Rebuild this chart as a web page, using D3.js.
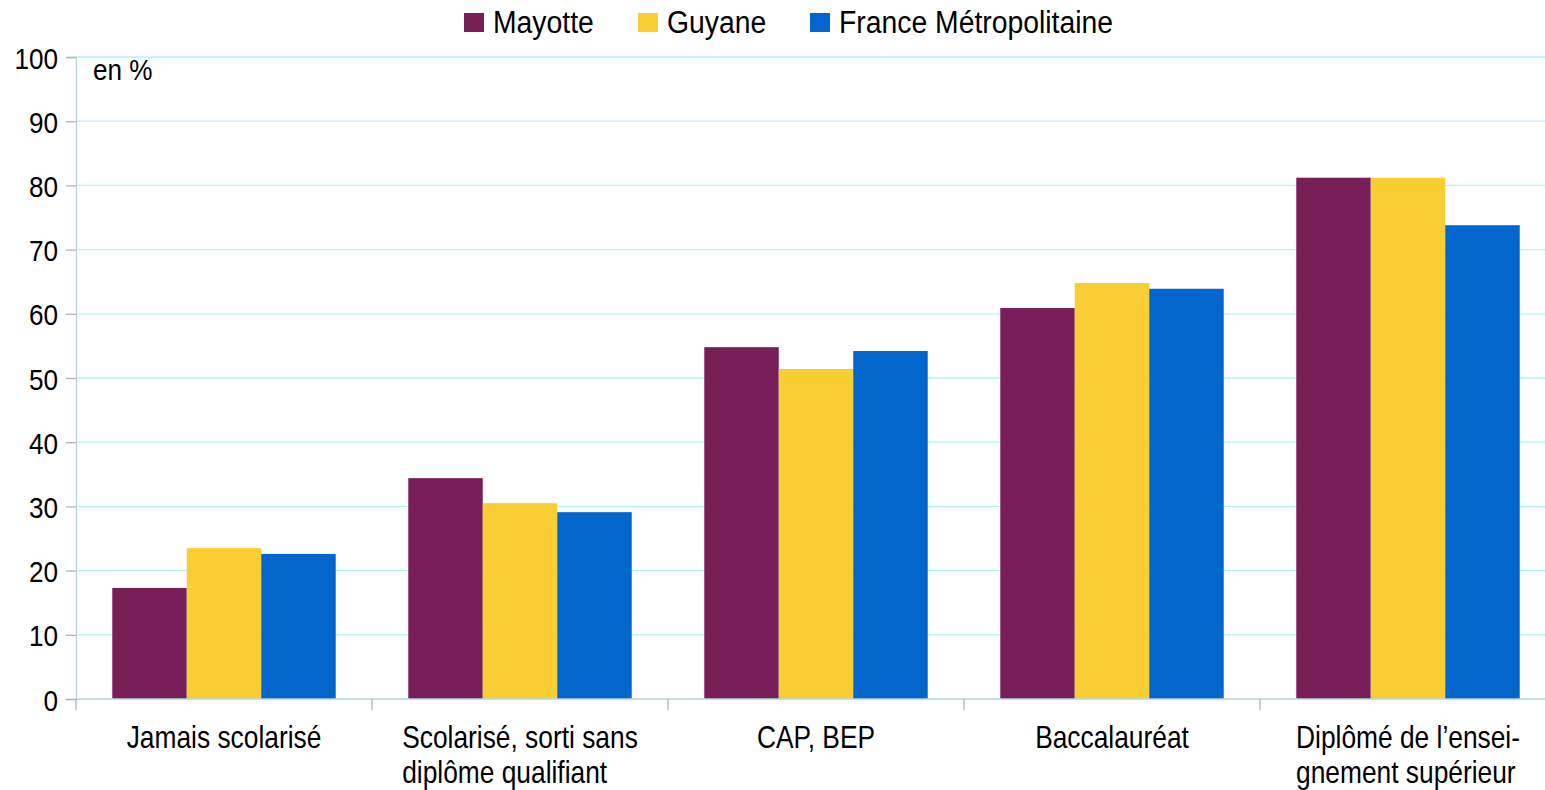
<!DOCTYPE html>
<html><head><meta charset="utf-8">
<script src="https://cdn.jsdelivr.net/npm/d3@7"></script>
<style>html,body{margin:0;padding:0;background:#fff;overflow:hidden}svg{display:block}text{font-family:"Liberation Sans",Arial,sans-serif;fill:#000}</style>
</head><body><svg id="c" width="1545" height="790"></svg>
<script>
const categories = [["Jamais scolarisé"], ["Scolarisé, sorti sans", "diplôme qualifiant"], ["CAP, BEP"], ["Baccalauréat"], ["Diplômé de l’ensei-", "gnement supérieur"]];
const seriesNames = ["Mayotte", "Guyane", "France Métropolitaine"];
const mayotte = [17.3, 34.4, 54.8, 60.9, 81.2];
const guyane = [23.5, 30.5, 51.4, 64.8, 81.2];
const france = [22.6, 29.1, 54.2, 63.9, 73.8];
const yTicks = [0, 10, 20, 30, 40, 50, 60, 70, 80, 90, 100];
const colors = ["#781f5a", "#f9ce33", "#0366cc"];
const series = [mayotte, guyane, france];

const svg = d3.select("#c");
const x0 = d3.scaleBand().domain(d3.range(categories.length)).range([76, 1556]).paddingInner(0).paddingOuter(0);
const x1 = d3.scaleBand().domain(d3.range(series.length)).range([0, x0.bandwidth()]).paddingOuter(0.487).paddingInner(0);
const y = d3.scaleLinear().domain([0, 100]).range([699, 57]);

function label(parent, x, yy, txt, anchor, fs, sx) {
  return parent.append("text")
    .attr("transform", `translate(${x},${yy}) scale(${sx},1)`)
    .attr("text-anchor", anchor || "start")
    .style("font-size", fs + "px").text(txt);
}

// gridlines
svg.append("g").selectAll("line").data(yTicks.slice(1)).join("line")
  .attr("x1", 76).attr("x2", 1556).attr("y1", d => y(d)).attr("y2", d => y(d))
  .attr("stroke", "#b5f0f7").attr("stroke-width", 1.3);

// bars
series.forEach((s, si) => {
  svg.append("g").selectAll("rect").data(s).join("rect")
    .attr("x", (d, i) => x0(i) + x1(si))
    .attr("width", x1.bandwidth())
    .attr("y", d => y(d))
    .attr("height", d => y(0) - y(d))
    .attr("fill", colors[si]);
});

// y axis
const yAxis = svg.append("g").attr("transform", "translate(76,0)")
  .call(d3.axisLeft(y).tickValues(yTicks).tickSize(10).tickFormat(""));
yAxis.select(".domain").attr("stroke", "#b7d3dc").attr("stroke-width", 1.3);
yAxis.selectAll(".tick line").attr("stroke", "#b3b3b3").attr("stroke-width", 1.3);
yAxis.selectAll(".tick").each(function(d) {
  label(d3.select(this), -18, 11, d3.format("d")(d), "end", 30, 0.87);
});

// x axis
const xAxis = svg.append("g").attr("transform", "translate(0,699)");
xAxis.append("line").attr("x1", 76).attr("x2", 1556).attr("stroke", "#b7d3dc").attr("stroke-width", 1.3);
const sepTicks = d3.range(categories.length + 1).map(i => i < categories.length ? x0(i) : x0.range()[1]);
xAxis.selectAll("line.sep").data(sepTicks).join("line").attr("class", "sep")
  .attr("x1", d => d).attr("x2", d => d).attr("y1", 0).attr("y2", 11)
  .attr("stroke", "#b3b3b3").attr("stroke-width", 1.3);

// category labels (block centred, lines left-aligned)
const CFS = 31, CSX = 0.85;
categories.forEach((lines, i) => {
  const g = svg.append("g");
  const ts = lines.map((l, li) => label(g, 0, 748 + li * 35, l, "start", CFS, CSX));
  const w = d3.max(ts, t => t.node().getBBox().width) * CSX;
  const cx = x0(i) + x0.bandwidth() / 2;
  g.attr("transform", `translate(${cx - w / 2},0)`);
});

// unit label
label(svg, 93, 80, "en %", "start", 30, 0.87);

// legend
const legX = [464, 638, 810];
seriesNames.forEach((n, i) => {
  svg.append("rect").attr("x", legX[i]).attr("y", 13).attr("width", 20).attr("height", 19).attr("fill", colors[i]);
  label(svg, legX[i] + 29, 33, n, "start", 31.5, 0.9);
});
</script></body></html>
